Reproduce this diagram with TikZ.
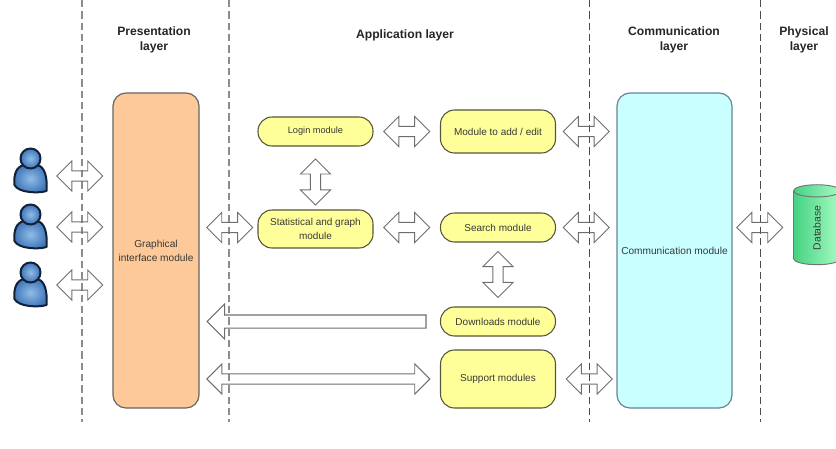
\documentclass[tikz,border=0pt]{standalone}
\usepackage{fontspec}
\setmainfont{Liberation Sans}
\usetikzlibrary{shapes.arrows,shapes.geometric,calc}
\definecolor{modyellow}{HTML}{FFFF99}
\definecolor{modedge}{HTML}{55553A}
\definecolor{guifill}{HTML}{FDC998}
\definecolor{commfill}{HTML}{C9FFFF}
\definecolor{txt}{HTML}{383838}
\definecolor{arrowedge}{HTML}{6E6E6E}
\newcommand{\px}{0.75pt}
\tikzset{
  x=0.75pt,y=-0.75pt,
  module/.style={draw=modedge,line width=0.8pt,fill=modyellow,text=txt,font=\fontsize{7.5}{10}\selectfont,
    align=center,inner sep=0pt,minimum width=115*\px,rounded corners=14*\px},
  bigbox/.style={inner sep=0pt,text=txt,font=\fontsize{7.6}{10.5}\selectfont,align=center,minimum height=315*\px,rounded corners=13*\px,line width=0.9pt},
  heading/.style={font=\bfseries\fontsize{9.1}{11.3}\selectfont,align=center,text=black!85},
  layerline/.style={dash pattern=on 5.5pt off 3pt,line width=#1},
  both/.style={shape=double arrow,draw=arrowedge,line width=0.7pt,inner xsep=0pt,inner ysep=4.6*\px,
    double arrow head extend=10*\px,double arrow tip angle=90,minimum height=#1*\px,sloped},
  both/.default=46,
  leftblock/.style={shape=single arrow,draw=arrowedge,line width=0.8pt,inner xsep=0pt,inner ysep=6*\px,
    single arrow head extend=11*\px,single arrow tip angle=90,minimum height=219*\px,shape border rotate=180},
  userspot/.style={inner sep=0pt,minimum width=33*\px,minimum height=44*\px},
  usershape/.style={draw={rgb,255:red,18;green,32;blue,55},line width=1.5pt,line join=round,
    inner color={rgb,255:red,145;green,188;blue,230},outer color={rgb,255:red,62;green,118;blue,185}},
  user/.pic={
    \path[usershape]
      (-16,14) .. controls (-17,3) and (-14,-4) .. (-7,-6)
      .. controls (-3,-7) and (3,-7) .. (7,-6)
      .. controls (14,-4) and (17,5) .. (16,20)
      .. controls (8,22.5) and (-12,22) .. (-16,14) -- cycle;
    \path[usershape] (0,-12.5) circle[radius=10];
  }
}
\begin{document}
\begin{tikzpicture}
\useasboundingbox (0,0) rectangle (836,449);
% layer separators
\draw[layerline=1pt,draw=black!45] (82,0) -- (82,422);
\draw[layerline=1pt,draw=black!45] (229,0) -- (229,422);
\draw[layerline=0.7pt,draw=black!70] (589,0) -- (589,422);
\draw[layerline=0.7pt,draw=black!70] (760,0) -- (760,422);
% headings
\node[heading] (hp) at (154,39.5) {Presentation\\layer};
\node[heading] (ha) at (405,35) {Application layer};
\node[heading] (hc) at (674,39.5) {Communication\\layer};
\node[heading] (hy) at (804,39.5) {Physical\\layer};
% big boxes
\node[bigbox,draw=black!60,fill=guifill,minimum width=86*\px] (gui) at (156,250.5) {Graphical\\interface module};
\node[bigbox,draw=black!45!cyan!60!gray,fill=commfill,minimum width=115*\px] (comm) at (674.5,250.5) {Communication module};
% modules
\node[module,minimum height=29*\px,font=\fontsize{6.9}{10}\selectfont] (login) at (315.5,131.5) {Login module};
\node[module,minimum height=43*\px] (add) at (498,131.5) {Module to add / edit};
\node[module,minimum height=38*\px] (stat) at (315.5,229) {Statistical and graph\\module};
\node[module,minimum height=29*\px] (search) at (498,227.5) {Search module};
\node[module,minimum height=29*\px] (down) at (498,321.5) {Downloads module};
\node[module,minimum height=58*\px] (supp) at (498,379) {Support modules};
% users
\node[userspot] (u1) at (30.5,171) {};
\node[userspot] (u2) at (30.5,227) {};
\node[userspot] (u3) at (30.5,285) {};
\pic at (u1) {user};
\pic at (u2) {user};
\pic at (u3) {user};
% database
\begin{scope}
\clip (0,0) rectangle (836,449);
\node[shape=cylinder,rotate=90,aspect=1.6,minimum height=80*\px,minimum width=47*\px,inner sep=0pt,draw=black!55,line width=0.7pt,
  left color={rgb,255:red,70;green,210;blue,130},right color={rgb,255:red,165;green,252;blue,195},
  text=txt,font=\fontsize{7.8}{10}\selectfont] (db) at (817,228) {Database};
\end{scope}
% block arrows
\path (u1.east |- 0,176) -- node[both] (a1) {} (gui.west |- 0,176);
\path (u2.east) -- node[both] (a2) {} (u2.east -| gui.west);
\path (u3.east) -- node[both] (a3) {} (u3.east -| gui.west);
\path (search.west -| gui.east) -- node[both,pos=.52] (a4) {} (search.west -| stat.west);
\path (login.east) -- node[both] (a5) {} (login.east -| add.west);
\path (search.west -| stat.east) -- node[both] (a6) {} (search.west);
\path (add.east) -- node[both] (a7) {} (add.east -| comm.west);
\path (search.east) -- node[both] (a8) {} (search.east -| comm.west);
\path (supp.east) -- node[both,pos=.55] (a9) {} (supp.east -| comm.west);
\path (search.east -| comm.east) -- node[both,pos=.45] (a10) {} (search.east -| db.north);
\path (login.south) -- node[both,pos=.5625] (a11) {} (stat.north);
\path (search.south) -- node[both] (a12) {} (down.north);
\path (down.west) -- node[leftblock,pos=.5] (a13) {} (down.west -| gui.east);
\path (supp.west -| gui.east) -- node[both=223,pos=.494] (a14) {} (supp.west);
\end{tikzpicture}
\end{document}
